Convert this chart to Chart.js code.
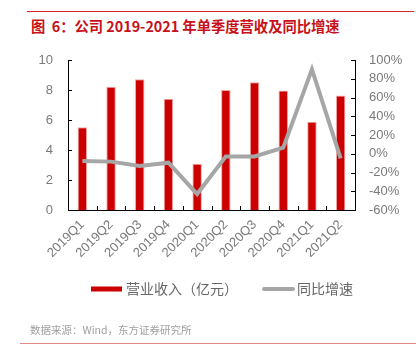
<!DOCTYPE html>
<html>
<head>
<meta charset="utf-8">
<script src="https://cdn.jsdelivr.net/npm/chart.js@4.4.1/dist/chart.umd.min.js"></script>
<style>
html,body{margin:0;padding:0;background:#fff;}
#wrap{position:relative;width:416px;height:360px;overflow:hidden;}
#c{position:absolute;left:0;top:0;}
#topline{position:absolute;left:27px;top:11px;width:387px;height:1px;background:#d7262b;}
#title{position:absolute;left:31px;top:15px;font-family:"Noto Sans CJK SC","Noto Sans",sans-serif;font-size:14.3px;font-weight:bold;color:#c8101a;white-space:nowrap;}
#src{position:absolute;left:30px;top:322px;font-family:"Noto Sans CJK SC","Noto Sans",sans-serif;font-size:10.5px;color:#a0a0a0;white-space:nowrap;}
#botline{position:absolute;left:20px;top:343px;width:396px;height:1px;background:#e58a8a;}
</style>
</head>
<body>
<div id="wrap">
<div id="topline"></div>
<div id="title">图&nbsp; 6：公司 2019-2021 年单季度营收及同比增速</div>
<canvas id="c" width="416" height="360"></canvas>
<div id="src">数据来源：Wind，东方证券研究所</div>
<div id="botline"></div>
</div>
<script>
const categories = ["2019Q1","2019Q2","2019Q3","2019Q4","2020Q1","2020Q2","2020Q3","2020Q4","2021Q1","2021Q2"];
const revenue = [5.51, 8.22, 8.71, 7.42, 3.09, 8.0, 8.51, 7.96, 5.89, 7.64];
const yoyGrowth = [-7.7, -8.4, -13.0, -9.5, -43.0, -2.8, -2.8, 6.5, 90.0, -4.9];
const leftTicks = [0, 2, 4, 6, 8, 10];
const rightTicks = [-60, -40, -20, 0, 20, 40, 60, 80, 100];
const seriesNames = ["营业收入（亿元）", "同比增速"];

const FONT = '"Liberation Sans","Noto Sans",sans-serif';
const LABEL_COLOR = '#7a7a7a';

const innerTicks = {
  id: 'innerTicks',
  afterDatasetsDraw(chart) {
    const ctx = chart.ctx;
    const ca = chart.chartArea;
    const yl = chart.scales.y, yr = chart.scales.y1;
    ctx.save();
    ctx.strokeStyle = '#000';
    ctx.lineWidth = 1;
    ctx.beginPath();
    yl.ticks.forEach((t, i) => {
      const py = Math.round(yl.getPixelForTick(i)) + 0.5;
      ctx.moveTo(ca.left, py); ctx.lineTo(ca.left + 4, py);
    });
    yr.ticks.forEach((t, i) => {
      const py = Math.round(yr.getPixelForTick(i)) + 0.5;
      ctx.moveTo(ca.right, py); ctx.lineTo(ca.right - 4, py);
    });
    const n = categories.length;
    const w = (ca.right - ca.left) / n;
    for (let i = 0; i <= n; i++) {
      const px = Math.round(ca.left + i * w) + 0.5;
      ctx.moveTo(px, ca.bottom); ctx.lineTo(px, ca.bottom - 4);
    }
    ctx.stroke();
    ctx.restore();
  }
};

const customLegend = {
  id: 'customLegend',
  afterDraw(chart) {
    const ctx = chart.ctx;
    ctx.save();
    ctx.font = '14px "Noto Sans CJK SC","Noto Sans",sans-serif';
    ctx.textBaseline = 'middle';
    const yc = 289;
    ctx.fillStyle = chart.data.datasets[1].backgroundColor;
    ctx.fillRect(91, yc - 2.5, 31, 5);
    ctx.fillStyle = '#666666';
    ctx.fillText(chart.data.datasets[1].label, 126, yc);
    ctx.strokeStyle = chart.data.datasets[0].borderColor;
    ctx.lineWidth = 4;
    ctx.lineCap = 'round';
    ctx.beginPath();
    ctx.moveTo(264, yc); ctx.lineTo(293, yc);
    ctx.stroke();
    ctx.fillText(chart.data.datasets[0].label, 297, yc);
    ctx.restore();
  }
};

new Chart(document.getElementById('c'), {
  data: {
    labels: categories,
    datasets: [
      {
        type: 'line',
        label: seriesNames[1],
        data: yoyGrowth,
        yAxisID: 'y1',
        borderColor: '#a6a6a6',
        borderWidth: 4,
        pointRadius: 0,
        tension: 0,
        fill: false,
        order: 0
      },
      {
        type: 'bar',
        label: seriesNames[0],
        data: revenue,
        yAxisID: 'y',
        backgroundColor: '#cc0000',
        borderColor: '#f2a6a6',
        borderWidth: 1,
        categoryPercentage: 1.0,
        barPercentage: 0.33,
        order: 1
      }
    ]
  },
  options: {
    responsive: false,
    animation: false,
    devicePixelRatio: 1,
    layout: { padding: { top: 60, bottom: 90, left: 0, right: 0 } },
    plugins: { legend: { display: false }, tooltip: { enabled: false } },
    scales: {
      x: {
        offset: true,
        grid: { display: false, drawTicks: false },
        border: { display: true, color: '#000', width: 1 },
        ticks: { color: LABEL_COLOR, font: { family: FONT, size: 13 }, maxRotation: 45, minRotation: 45, padding: 7, autoSkip: false },
        afterFit(s) { s.height = 60; }
      },
      y: {
        position: 'left',
        min: 0, max: 10,
        afterBuildTicks(s) { s.ticks = leftTicks.map(v => ({ value: v })); },
        grid: { display: false, drawTicks: false },
        border: { display: true, color: '#000', width: 1 },
        ticks: { color: LABEL_COLOR, font: { family: FONT, size: 13 }, padding: 15 },
        afterFit(s) { s.width = 68; }
      },
      y1: {
        position: 'right',
        min: -60, max: 100,
        afterBuildTicks(s) { s.ticks = rightTicks.map(v => ({ value: v })); },
        grid: { display: false, drawTicks: false },
        border: { display: true, color: '#000', width: 1 },
        ticks: { color: LABEL_COLOR, font: { family: FONT, size: 13 }, padding: 14, callback: v => v + '%' },
        afterFit(s) { s.width = 61; }
      }
    }
  },
  plugins: [innerTicks, customLegend]
});
</script>
</body>
</html>
